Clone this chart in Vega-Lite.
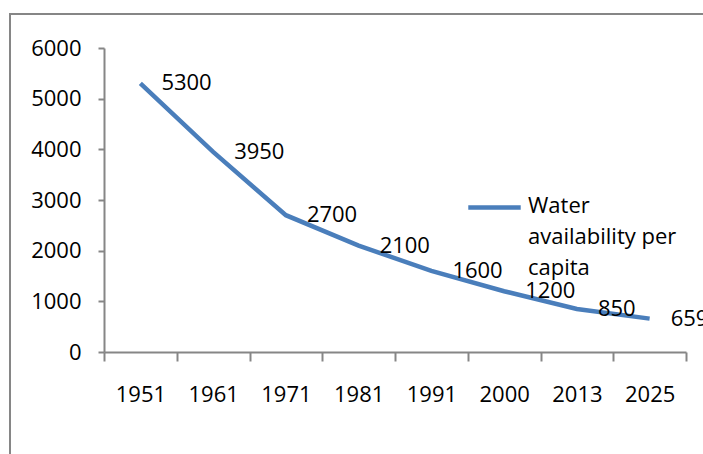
{
  "$schema": "https://vega.github.io/schema/vega-lite/v6.json",
  "autosize": "none",
  "width": 700,
  "height": 450,
  "padding": {"left": 10, "top": 14, "right": 0, "bottom": 0},
  "background": "white",
  "config": {
    "view": {"stroke": "#868686", "strokeWidth": 2},
    "font": "Open Sans",
    "style": {"guide-label": {"lineHeight": 31}}
  },
  "data": {
    "values": [
      {"year": "1951", "value": 5300, "series": "Water availability per capita"},
      {"year": "1961", "value": 3950, "series": "Water availability per capita"},
      {"year": "1971", "value": 2700, "series": "Water availability per capita"},
      {"year": "1981", "value": 2100, "series": "Water availability per capita"},
      {"year": "1991", "value": 1600, "series": "Water availability per capita"},
      {"year": "2000", "value": 1200, "series": "Water availability per capita"},
      {"year": "2013", "value": 850, "series": "Water availability per capita"},
      {"year": "2025", "value": 659, "series": "Water availability per capita"}
    ]
  },
  "encoding": {
    "x": {
      "field": "year",
      "type": "ordinal",
      "bandPosition": 0.5,
      "scale": {"type": "band", "range": [94, 676], "paddingInner": 0, "paddingOuter": 0},
      "axis": {
        "title": null,
        "offset": -112,
        "labelAngle": 0,
        "tickBand": "extent",
        "domainColor": "#868686",
        "domainWidth": 2,
        "tickColor": "#868686",
        "tickWidth": 2,
        "tickSize": 9,
        "labelFontSize": 22,
        "labelColor": "black",
        "labelPadding": 23,
        "labelBaseline": "top"
      }
    },
    "y": {
      "field": "value",
      "type": "quantitative",
      "scale": {"domain": [0, 6000], "range": [338, 34], "nice": false},
      "axis": {
        "title": null,
        "offset": -94,
        "format": "d",
        "values": [0, 1000, 2000, 3000, 4000, 5000, 6000],
        "grid": false,
        "domainColor": "#868686",
        "domainWidth": 2,
        "tickColor": "#868686",
        "tickWidth": 2,
        "tickSize": 6,
        "labelFontSize": 22,
        "labelColor": "black",
        "labelPadding": 17
      }
    }
  },
  "layer": [
    {
      "mark": {"type": "line", "strokeWidth": 4.5, "color": "#4A7EBB"},
      "encoding": {
        "color": {
          "field": "series",
          "type": "nominal",
          "scale": {"range": ["#4A7EBB"]},
          "legend": {
            "title": null,
            "orient": "none",
            "legendX": 456,
            "legendY": 165,
            "padding": 0,
            "symbolType": "stroke",
            "symbolSize": 2750,
            "symbolStrokeWidth": 4.5,
            "labelFontSize": 22,
            "labelColor": "black",
            "labelOffset": 5,
            "labelLimit": 300,
            "labelBaseline": "top",
            "labelExpr": "['Water', 'availability per', 'capita']",
            "encode": {"labels": {"update": {"dy": {"value": -12}}}}
          }
        }
      }
    },
    {
      "mark": {"type": "text", "align": "left", "baseline": "middle", "dx": 21, "fontSize": 22, "color": "black"},
      "encoding": {"text": {"field": "value", "type": "quantitative"}}
    }
  ]
}
